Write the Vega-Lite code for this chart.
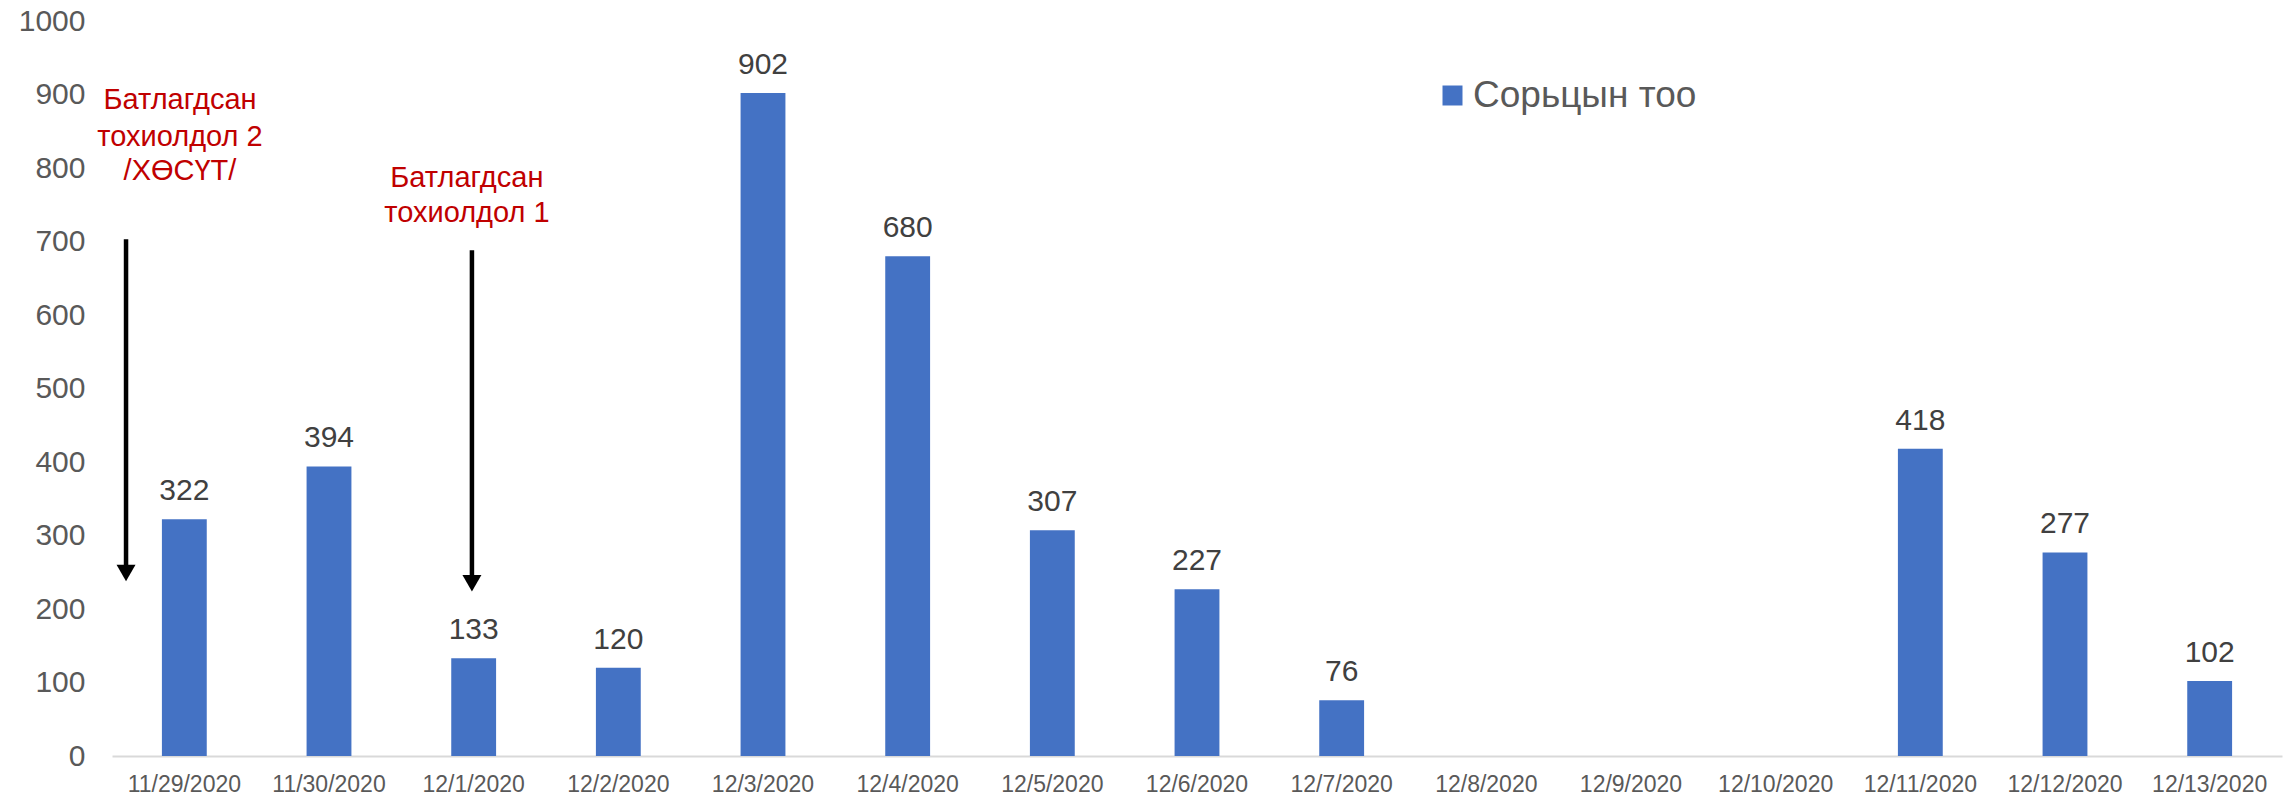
{
  "$schema": "https://vega.github.io/schema/vega-lite/v6.json",
  "width": 2170,
  "height": 735,
  "autosize": {"type": "none"},
  "padding": {"left": 112, "top": 21, "right": 13, "bottom": 39},
  "background": "white",
  "config": {"view": {"stroke": null}, "font": "Liberation Sans"},
  "datasets": {
    "samples": [
      {"date": "11/29/2020", "count": 322},
      {"date": "11/30/2020", "count": 394},
      {"date": "12/1/2020", "count": 133},
      {"date": "12/2/2020", "count": 120},
      {"date": "12/3/2020", "count": 902},
      {"date": "12/4/2020", "count": 680},
      {"date": "12/5/2020", "count": 307},
      {"date": "12/6/2020", "count": 227},
      {"date": "12/7/2020", "count": 76},
      {"date": "12/8/2020", "count": null},
      {"date": "12/9/2020", "count": null},
      {"date": "12/10/2020", "count": null},
      {"date": "12/11/2020", "count": 418},
      {"date": "12/12/2020", "count": 277},
      {"date": "12/13/2020", "count": 102}
    ],
    "notes": [
      {"pos": -0.03, "y": 880, "text": "Батлагдсан"},
      {"pos": -0.03, "y": 830, "text": "тохиолдол 2"},
      {"pos": -0.03, "y": 784, "text": "/ХӨСҮТ/"},
      {"pos": 1.953, "y": 774, "text": "Батлагдсан"},
      {"pos": 1.953, "y": 727, "text": "тохиолдол 1"}
    ],
    "arrows": [
      {"pos": -0.403, "top": 703, "bottom": 256, "head": 249},
      {"pos": 1.988, "top": 688, "bottom": 242, "head": 235}
    ]
  },
  "layer": [
    {
      "layer": [
        {
          "data": {"name": "samples"},
          "mark": {"type": "bar", "color": "#4472C4"},
          "encoding": {
            "x": {
              "field": "date",
              "type": "ordinal",
              "title": null,
              "scale": {
                "domain": ["11/29/2020", "11/30/2020", "12/1/2020", "12/2/2020", "12/3/2020", "12/4/2020", "12/5/2020", "12/6/2020", "12/7/2020", "12/8/2020", "12/9/2020", "12/10/2020", "12/11/2020", "12/12/2020", "12/13/2020"],
                "paddingInner": 0.69,
                "paddingOuter": 0.345
              },
              "axis": {
                "labelAngle": 0,
                "labelFontSize": 23,
                "labelColor": "#595959",
                "domainColor": "#D9D9D9",
                "domainWidth": 2,
                "ticks": false,
                "labelPadding": 17,
                "grid": false
              }
            },
            "y": {
              "field": "count",
              "type": "quantitative",
              "title": null,
              "scale": {"domain": [0, 1000], "nice": false},
              "axis": {
                "values": [0, 100, 200, 300, 400, 500, 600, 700, 800, 900, 1000],
                "format": "d",
                "labelFontSize": 30,
                "labelColor": "#595959",
                "domain": false,
                "ticks": false,
                "grid": false,
                "labelPadding": 27
              }
            },
            "color": {
              "datum": "Сорьцын тоо",
              "type": "nominal",
              "scale": {"range": ["#4472C4"]},
              "legend": {
                "title": null,
                "orient": "none",
                "legendX": 1322,
                "legendY": 56,
                "padding": 0,
                "symbolType": "square",
                "symbolSize": 400,
                "symbolStrokeWidth": 0,
                "labelFontSize": 37,
                "labelColor": "#595959",
                "labelOffset": 2,
                "labelLimit": 500
              }
            }
          }
        },
        {
          "data": {"name": "samples"},
          "transform": [{"filter": "isValid(datum.count)"}],
          "mark": {"type": "text", "dy": -19, "baseline": "alphabetic", "fontSize": 30, "color": "#404040"},
          "encoding": {
            "x": {"field": "date", "type": "ordinal", "title": null},
            "y": {"field": "count", "type": "quantitative", "title": null},
            "text": {"field": "count", "type": "quantitative"}
          }
        }
      ]
    },
    {
      "layer": [
        {
          "data": {"name": "notes"},
          "mark": {"type": "text", "align": "center", "baseline": "alphabetic", "fontSize": 29, "color": "#C00000"},
          "encoding": {
            "x": {"field": "pos", "type": "quantitative", "scale": {"domain": [-0.5, 14.5], "nice": false, "zero": false}, "axis": null},
            "y": {"field": "y", "type": "quantitative", "title": null},
            "text": {"field": "text", "type": "nominal"}
          }
        },
        {
          "data": {"name": "arrows"},
          "mark": {"type": "rule", "color": "black", "strokeWidth": 4.5},
          "encoding": {
            "x": {"field": "pos", "type": "quantitative"},
            "y": {"field": "top", "type": "quantitative", "title": null},
            "y2": {"field": "bottom"}
          }
        },
        {
          "data": {"name": "arrows"},
          "mark": {"type": "point", "shape": "triangle-down", "filled": true, "color": "black", "opacity": 1, "size": 360},
          "encoding": {
            "x": {"field": "pos", "type": "quantitative"},
            "y": {"field": "head", "type": "quantitative", "title": null}
          }
        }
      ]
    }
  ],
  "resolve": {"scale": {"x": "independent"}}
}
